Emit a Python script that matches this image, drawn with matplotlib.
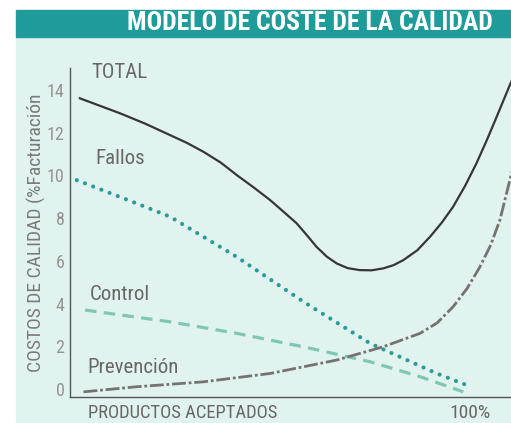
"""
Modelo de coste de la calidad: curvas de costes (total, fallos, control,
prevención) frente al porcentaje de productos aceptados.
"""

import matplotlib
matplotlib.use("Agg")
import matplotlib.pyplot as plt
from matplotlib.patches import Rectangle

# --- Datos ----------------------------------------------------------------
# x = % de productos aceptados, y = % de facturación
total_x = [2.5, 12.6, 19.0, 25.2, 29.5, 33.6, 38.0, 42.0, 46.2, 50.4, 53.8, 57.1, 59.6,
           62.1, 64.7, 67.2, 70.0, 73.0, 76.0, 78.9, 81.5, 84.0, 87.5, 90.7, 93.7,
           96.5, 99.5, 102.4, 105.0, 107.5, 110.8, 112.5]
total_y = [13.61, 12.91, 12.42, 11.89, 11.52, 11.11, 10.60, 10.02, 9.45, 8.85, 8.30, 7.76,
           7.22, 6.66, 6.20, 5.88, 5.66, 5.57, 5.56, 5.65, 5.80, 6.04, 6.50, 7.13, 7.80,
           8.53, 9.50, 10.57, 11.65, 12.75, 14.23, 14.95]

fallos_x = [1.7, 16.8, 25.2, 42.0, 58.8, 75.6, 92.4, 99.9]
fallos_y = [9.78, 8.69, 8.07, 6.19, 4.09, 2.14, 0.73, 0.19]

control_x = [3.8, 25.2, 42.0, 58.8, 75.6, 88.2, 99.1]
control_y = [3.70, 3.15, 2.61, 1.98, 1.28, 0.58, -0.13]

prev_x = [3.4, 16.8, 33.6, 50.4, 67.2, 78.9, 88.2, 92.5, 96.5, 100.0, 103.3, 106.0,
          108.3, 111.1, 112.1]
prev_y = [-0.13, 0.11, 0.34, 0.73, 1.36, 1.98, 2.61, 3.10, 3.85, 4.70, 5.73, 6.75,
          7.91, 10.0, 10.7]

y_ticks = [0, 2, 4, 6, 8, 10, 12, 14]

TITLE = "MODELO DE COSTE DE LA CALIDAD"
Y_LABEL = "COSTOS DE CALIDAD (%Facturación"
X_LABEL = "PRODUCTOS ACEPTADOS"

# --- Estilo ------------------------------------------------------------------
COND = ["Roboto Condensed", "DejaVu Sans"]
MINT = "#e1f3ee"
TEAL = "#1f9c9a"
GREY_TXT = "#676767"

fig = plt.figure(figsize=(5.11, 4.23), dpi=100)
fig.patch.set_facecolor("white")

# fondo menta y banda del título
fig.add_artist(Rectangle((16 / 511, 0), 1, 1 - 37 / 423, transform=fig.transFigure,
                         color=MINT, zorder=0))
fig.add_artist(Rectangle((16 / 511, 1 - 37 / 423), 1, 27 / 423, transform=fig.transFigure,
                         color=TEAL, zorder=0))
fig.text(493 / 511, 1 - 23.5 / 423, TITLE, ha="right", va="center", color="white",
         fontsize=18.5, fontweight="bold", family=COND)

ax = fig.add_axes([70 / 511, 1 - 397 / 423, 1 - 70 / 511, 329 / 423])
ax.set_facecolor("none")
ax.set_xlim(0, 111.1)
ax.set_ylim(-0.37, 15.03)

ax.plot(total_x, total_y, color="#363636", lw=1.6, solid_joinstyle="round")
ax.plot(fallos_x, fallos_y, color="#2a9b9b", lw=3.0,
        linestyle=(0, (0.01, 2.1)), dash_capstyle="round")
ax.plot(control_x, control_y, color="#80c6b7", lw=2.3,
        linestyle=(0, (3.6, 2.3)))
ax.plot(prev_x, prev_y, color="#767272", lw=2.0,
        linestyle=(0, (5, 1, 1, 1)))

for name, x, y in (("TOTAL", 5.5, 14.84), ("Fallos", 6.3, 10.8),
                   ("Control", 5.0, 4.45), ("Prevención", 4.5, 1.03)):
    ax.text(x, y, name, ha="left", va="center", color=GREY_TXT, fontsize=15, family=COND)

ax.set_yticks(y_ticks)
ax.set_yticklabels([str(v) for v in y_ticks], color="#949494", fontsize=13, family=COND)
ax.set_xticks([])
ax.tick_params(axis="y", length=0, pad=4)
for side in ("top", "right"):
    ax.spines[side].set_visible(False)
for side in ("left", "bottom"):
    ax.spines[side].set_color("#555555")
    ax.spines[side].set_linewidth(1.0)

fig.text(36 / 511, 1 - 233 / 423, Y_LABEL, rotation=90, ha="center", va="center",
         color="#7a7a7a", fontsize=14, family=COND)
fig.text(88 / 511, 1 - 413 / 423, X_LABEL, ha="left", va="center",
         color=GREY_TXT, fontsize=13.4, family=COND)
fig.text(470 / 511, 1 - 413 / 423, "100%", ha="center", va="center",
         color=GREY_TXT, fontsize=14, family=COND)

fig.savefig("out.png", dpi=100)
